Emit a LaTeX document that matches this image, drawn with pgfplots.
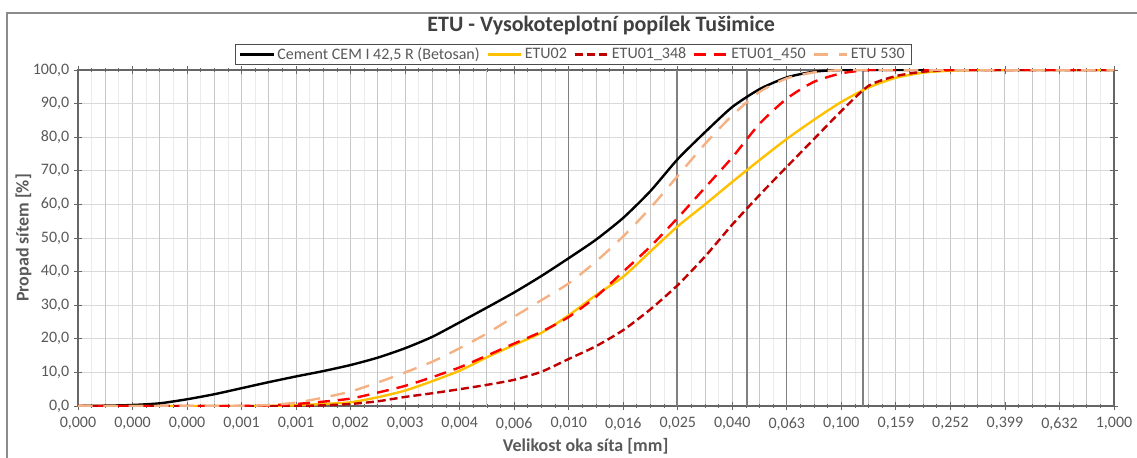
\documentclass[border=0pt]{standalone}
\usepackage{fontspec}
\setmainfont{Carlito}
\usepackage{pgfplots}
\usepackage{pgfplotstable}
\pgfplotsset{compat=1.18}

\definecolor{cemblack}{HTML}{000000}
\definecolor{etu02}{HTML}{FFC000}
\definecolor{etu348}{HTML}{C00000}
\definecolor{etu450}{HTML}{FF0000}
\definecolor{etu530}{HTML}{F4B183}
\definecolor{txt}{HTML}{595959}
\definecolor{ttl}{HTML}{404040}

% d = velikost oka sita [mm], propad v %
\pgfplotstableread{
d         cem    etu02  e348   e450   e530
1.585e-4  0.0    0.0    0.0    0.0    0.0
0.000200  0.1    0.0    0.0    0.0    0.0
0.000251  0.3    0.0    0.0    0.0    0.0
0.000316  0.8    0.0    0.0    0.0    0.0
0.000398  2.0    0.0    0.0    0.0    0.0
0.000501  3.5    0.0    0.0    0.0    0.0
0.000631  5.3    0.0    0.0    0.0    0.0
0.000794  7.1    0.0    0.0    0.2    0.3
0.001000  8.8    0.2    0.0    0.6    1.0
0.001259  10.4   0.6    0.2    1.3    2.5
0.001585  12.2   1.1    0.6    2.2    4.3
0.001995  14.4   2.6    1.4    4.0    7.0
0.002512  17.2   4.6    2.7    6.0    10.0
0.003162  20.6   7.4    3.8    8.6    13.2
0.003981  24.9   10.5   5.0    11.5   17.2
0.005012  29.3   14.5   6.3    15.0   21.6
0.006310  33.8   18.2   7.8    18.6   26.6
0.007943  38.7   21.8   10.2   22.1   31.5
0.010000  44.0   27.0   14.0   26.5   36.5
0.012589  49.5   33.0   17.8   32.5   43.0
0.015849  56.0   38.5   22.6   40.0   50.5
0.019953  64.0   46.0   28.8   47.5   59.0
0.025119  73.5   53.5   36.0   56.0   68.5
0.031623  81.5   60.0   44.5   65.0   78.0
0.039811  89.0   66.7   54.0   74.0   86.5
0.050119  94.3   73.2   62.8   84.0   93.5
0.063096  97.8   79.5   71.2   91.5   97.5
0.079433  99.5   85.2   79.5   96.5   99.3
0.100000  100.0  90.5   87.8   99.0   100.0
0.125893  100.0  94.8   95.3   100.0  100.0
0.158489  100.0  97.7   98.2   100.0  100.0
0.199526  100.0  99.2   99.5   100.0  100.0
0.251189  100.0  99.8   100.0  100.0  100.0
0.316228  100.0  100.0  100.0  100.0  100.0
1.000000  100.0  100.0  100.0  100.0  100.0
}\sito

\begin{document}
\begin{tikzpicture}
\path[use as bounding box] (-58.5pt,-38.25pt) rectangle (794.25pt,304.5pt);
\draw[black!45, line width=0.8pt] (-53.25pt,-45pt) -- (-53.25pt,294.75pt) -- (800pt,294.75pt);
\begin{axis}[
    scale only axis,
    width=777pt, height=252pt,
    xmode=log,
    xmin=1.585e-4, xmax=1,
    ymin=0, ymax=100,
    xtick={1.58489e-4,2.51189e-4,3.98107e-4,6.30957e-4,0.001,
           1.58489e-3,2.51189e-3,3.98107e-3,6.30957e-3,0.01,
           0.0158489,0.0251189,0.0398107,0.0630957,0.1,
           0.158489,0.251189,0.398107,0.630957,1},
    xticklabels={{0,000},{0,000},{0,000},{0,001},{0,001},{0,002},{0,003},{0,004},{0,006},{0,010},
                 {0,016},{0,025},{0,040},{0,063},{0,100},{0,159},{0,252},{0,399},{0,632},{1,000}},
    extra x ticks={1.99526e-4,3.16228e-4,5.01187e-4,7.94328e-4,
                   1.25893e-3,1.99526e-3,3.16228e-3,5.01187e-3,7.94328e-3,
                   0.0125893,0.0199526,0.0316228,0.0501187,0.0794328,
                   0.125893,0.199526,0.316228,0.501187,0.794328},
    extra x tick labels={},
    extra x tick style={major tick length=3pt},
    minor xtick={1.77828e-4,2.23872e-4,2.81838e-4,3.54813e-4,4.46684e-4,5.62341e-4,7.07946e-4,8.91251e-4,
                 1.12202e-3,1.41254e-3,1.77828e-3,2.23872e-3,2.81838e-3,3.54813e-3,4.46684e-3,5.62341e-3,7.07946e-3,8.91251e-3,
                 0.0112202,0.0141254,0.0177828,0.0223872,0.0281838,0.0354813,0.0446684,0.0562341,0.0707946,0.0891251,
                 0.112202,0.141254,0.177828,0.223872,0.281838,0.354813,0.446684,0.562341,0.707946,0.891251},
    ytick={0,10,...,100},
    yticklabel style={/pgf/number format/.cd, fixed, fixed zerofill, precision=1, use comma, assume math mode=true},
    tick label style={font=\fontsize{12}{14}\selectfont, text=txt},
    xticklabel style={yshift=-2pt},
    tick align=center,
    major tick length=6pt,
    minor tick length=3pt,
    tick style={black!60, line width=0.6pt},
    axis line style={black!60, line width=0.8pt},
    xmajorgrids, xminorgrids, ymajorgrids,
    major x grid style={black!22, line width=0.7pt},
    minor x grid style={black!8, line width=0.6pt},
    major y grid style={black!15, line width=0.7pt},
    xlabel={Velikost oka síta [mm]},
    ylabel={Propad sítem [\%]},
    label style={font=\bfseries\fontsize{13.5}{15}\selectfont, text=txt},
    xlabel style={at={(axis description cs:0.49,0)}, anchor=base, yshift=-34pt},
    ylabel style={at={(axis description cs:0,0.5)}, anchor=base, yshift=37pt},
    title={ETU - Vysokoteplotní popílek Tušimice},
    title style={font=\bfseries\fontsize{16.5}{18}\selectfont, text=ttl, at={(0.505,1)}, anchor=base, yshift=22.5pt},
    legend columns=-1,
    legend cell align=left,
    legend image code/.code={\draw[#1] (0pt,0pt) -- (25pt,0pt);},
    legend style={at={(0.478,1)}, anchor=south, yshift=3.75pt,
        font=\fontsize{12}{13}\selectfont, text=txt,
        draw=black!70, line width=0.7pt, fill=white,
        inner xsep=3pt, inner ysep=0.5pt,
        /tikz/every odd column/.append style={column sep=0pt},
        /tikz/every even column/.append style={column sep=3pt}},
    every axis plot/.append style={smooth, tension=0.4},
]
\pgfplotsinvokeforeach{0.010,0.025,0.045,0.063,0.12}{
  \draw[black!50, line width=1.1pt] (axis cs:#1,0) -- (axis cs:#1,100);
}
\addplot[cemblack, line width=1.8pt] table[x=d, y=cem] {\sito};
\addlegendentry{Cement CEM I 42,5 R (Betosan)}
\addplot[etu02, line width=1.8pt] table[x=d, y=etu02] {\sito};
\addlegendentry{ETU02}
\addplot[etu348, line width=1.8pt, dash pattern=on 6pt off 3pt] table[x=d, y=e348] {\sito};
\addlegendentry{ETU01\_348}
\addplot[etu450, line width=1.8pt, dash pattern=on 9pt off 6pt] table[x=d, y=e450] {\sito};
\addlegendentry{ETU01\_450}
\addplot[etu530, line width=1.8pt, dash pattern=on 11pt off 8pt] table[x=d, y=e530] {\sito};
\addlegendentry{ETU 530}
\end{axis}
\end{tikzpicture}
\end{document}
